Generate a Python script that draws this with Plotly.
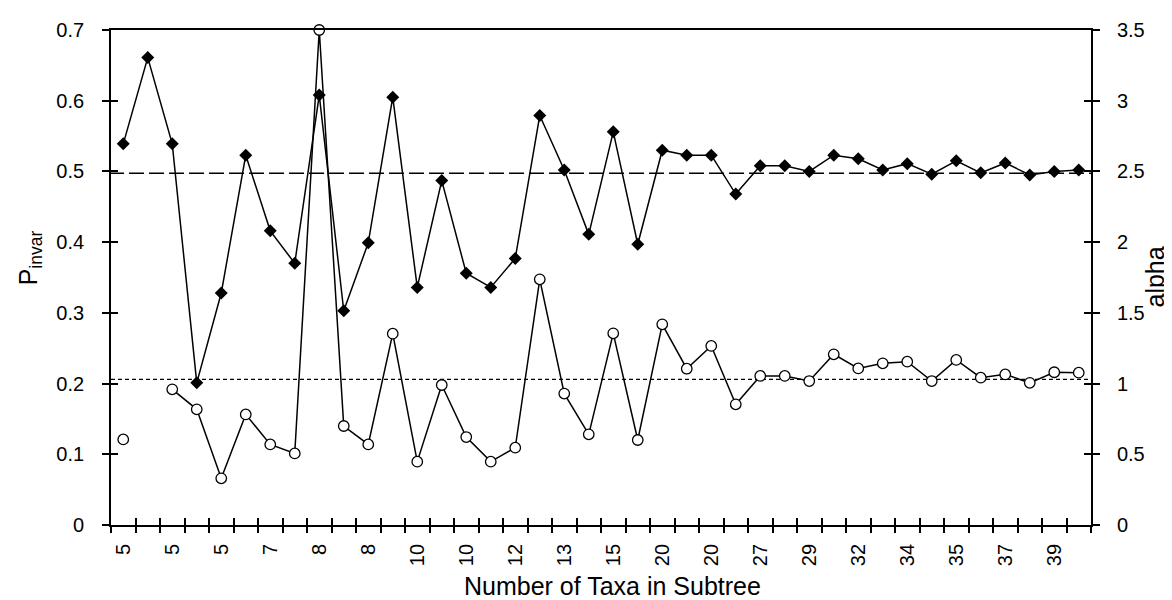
import plotly.graph_objects as go

# ---- data ----
tick_labels = ["5", "5", "5", "7", "8", "8", "10", "10", "12", "13",
               "15", "20", "20", "27", "29", "32", "34", "35", "37", "39"]
pinvar = [0.539, 0.661, 0.539, 0.201, 0.328, 0.523, 0.416, 0.370, 0.608, 0.303,
          0.399, 0.605, 0.336, 0.487, 0.356, 0.336, 0.377, 0.579, 0.502, 0.411,
          0.556, 0.397, 0.530, 0.523, 0.523, 0.468, 0.508, 0.508, 0.500, 0.523,
          0.518, 0.502, 0.511, 0.496, 0.515, 0.498, 0.512, 0.495, 0.500, 0.502]
alpha = [0.605, None, 0.959, 0.818, 0.330, 0.782, 0.570, 0.506, 3.5, 0.700,
         0.570, 1.353, 0.448, 0.990, 0.622, 0.448, 0.547, 1.737, 0.929, 0.641,
         1.355, 0.601, 1.419, 1.105, 1.266, 0.853, 1.054, 1.054, 1.018, 1.207,
         1.107, 1.143, 1.155, 1.018, 1.167, 1.042, 1.065, 1.005, 1.080, 1.077]
pinvar_mean = 0.4975
alpha_mean = 1.03

n = len(pinvar)
xs = list(range(n))
label_pos = xs[::2]
boundaries = [i - 0.5 for i in range(n + 1)]
xr = [-0.5, n - 0.5]

FONT = "Liberation Sans, Arial, Helvetica, sans-serif"
TICKF = dict(family=FONT, size=20, color="black")
TITLEF = dict(family=FONT, size=25, color="black")

fig = go.Figure()

fig.add_trace(go.Scatter(
    x=xs, y=pinvar, mode="lines+markers", name="Pinvar",
    line=dict(color="black", width=1.5),
    marker=dict(symbol="diamond", size=10, color="black"),
    showlegend=False, cliponaxis=False))

fig.add_trace(go.Scatter(
    x=xs, y=alpha, yaxis="y2", mode="lines+markers", name="alpha",
    connectgaps=False,
    line=dict(color="black", width=1.5),
    marker=dict(symbol="circle", size=10.5, color="white",
                line=dict(color="black", width=1.3)),
    showlegend=False, cliponaxis=False))

# empty helper traces carrying the inner halves of the crossing ticks
fig.add_trace(go.Scatter(x=[], y=[], xaxis="x2", yaxis="y3", showlegend=False, hoverinfo="skip"))
fig.add_trace(go.Scatter(x=[], y=[], xaxis="x3", yaxis="y4", showlegend=False, hoverinfo="skip"))

# mean reference lines
fig.add_shape(type="line", xref="paper", yref="y", x0=-0.002, x1=1, y0=pinvar_mean, y1=pinvar_mean,
              line=dict(color="black", width=1.6, dash="15px,5px"), layer="below")
fig.add_shape(type="line", xref="paper", yref="y2", x0=0, x1=1, y0=alpha_mean, y1=alpha_mean,
              line=dict(color="black", width=1.4, dash="4px,3px"), layer="below")

# axis titles
fig.add_annotation(text="Number of Taxa in Subtree", xref="paper", yref="paper",
                   x=0.512, y=-0.156, xanchor="center", yanchor="bottom",
                   showarrow=False, font=TITLEF)
fig.add_annotation(text="P<sub>invar</sub>", xref="paper", yref="paper",
                   x=-0.083, y=0.54, xanchor="center", yanchor="middle",
                   textangle=-90, showarrow=False, font=TITLEF)
fig.add_annotation(text="alpha", xref="paper", yref="paper",
                   x=1.0643, y=0.5, xanchor="center", yanchor="middle",
                   textangle=-90, showarrow=False, font=TITLEF)

yt = [round(0.1 * i, 1) for i in range(8)]
y2t = [0.5 * i for i in range(8)]

fig.update_layout(
    width=1172, height=600,
    margin=dict(l=103, r=89, t=22, b=83),
    paper_bgcolor="white", plot_bgcolor="white",
    showlegend=False,
    xaxis=dict(range=xr, tickmode="array", tickvals=label_pos, ticktext=tick_labels,
               tickangle=-90, ticks="", tickfont=TICKF, ticklabelstandoff=9,
               showline=True, linecolor="black", linewidth=1.8, mirror=True,
               showgrid=False, zeroline=False),
    xaxis2=dict(range=xr, overlaying="x", anchor="y", side="bottom",
                tickmode="array", tickvals=boundaries, ticks="outside", ticklen=7,
                tickwidth=1.5, tickcolor="black", showticklabels=False,
                showline=False, showgrid=False, zeroline=False),
    xaxis3=dict(range=xr, overlaying="x", anchor="y", side="bottom",
                tickmode="array", tickvals=boundaries, ticks="inside", ticklen=7,
                tickwidth=1.5, tickcolor="black", showticklabels=False,
                showline=False, showgrid=False, zeroline=False),
    yaxis=dict(range=[0, 0.7], tickmode="array", tickvals=yt, ticks="outside", ticklen=7,
               tickwidth=1.5, tickcolor="black", tickfont=TICKF, ticklabelstandoff=14,
               showline=True, linecolor="black", linewidth=1.8,
               showgrid=False, zeroline=False),
    yaxis2=dict(range=[0, 3.5], overlaying="y", side="right", anchor="x",
                tickmode="array", tickvals=y2t, ticks="outside", ticklen=7,
                tickwidth=1.5, tickcolor="black", tickfont=TICKF, ticklabelstandoff=13,
                showline=True, linecolor="black", linewidth=1.8,
                showgrid=False, zeroline=False),
    yaxis3=dict(range=[0, 0.7], overlaying="y", side="left", anchor="x",
                tickmode="array", tickvals=yt, ticks="inside", ticklen=7,
                tickwidth=1.5, tickcolor="black", showticklabels=False,
                showline=False, showgrid=False, zeroline=False),
    yaxis4=dict(range=[0, 3.5], overlaying="y", side="right", anchor="x",
                tickmode="array", tickvals=y2t, ticks="inside", ticklen=7,
                tickwidth=1.5, tickcolor="black", showticklabels=False,
                showline=False, showgrid=False, zeroline=False),
)

fig.write_html("out.html")
